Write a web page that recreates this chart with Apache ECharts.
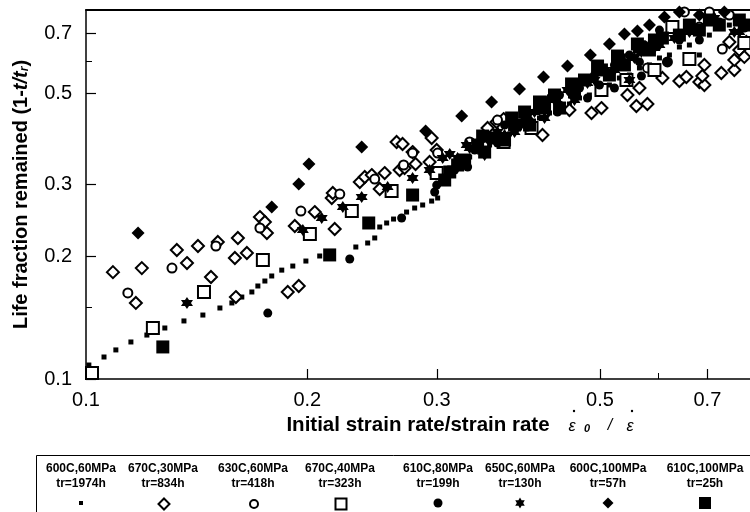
<!DOCTYPE html>
<html>
<head>
<meta charset="utf-8">
<script src="https://cdn.jsdelivr.net/npm/echarts@6/dist/echarts.min.js"></script>
<style>
  html, body { margin: 0; padding: 0; background: #fff; }
  #chart { width: 750px; height: 512px; }
</style>
</head>
<body>
<div id="chart"></div>
<script>
// Axis tick values (log-log plot)
const xTicks = [0.1, 0.2, 0.3, 0.5, 0.7];
const yTicks = [0.1, 0.2, 0.3, 0.5, 0.7];
const xMinorTicks = [0.6];
const yMinorTicks = [0.15, 0.6];

// Test conditions and rupture times
const conditions = ['600C,60MPa', '670C,30MPa', '630C,60MPa', '670C,40MPa',
                    '610C,80MPa', '650C,60MPa', '600C,100MPa', '610C,100MPa'];
const ruptureTimes = ['tr=1974h', 'tr=834h', 'tr=418h', 'tr=323h',
                      'tr=199h', 'tr=130h', 'tr=57h', 'tr=25h'];

// [initial strain rate / strain rate, life fraction remained]
const d600c60 = [
  [0.1009,0.1082],[0.1058,0.1132],[0.1098,0.1178],[0.1151,0.1232],[0.1210,0.1281],
  [0.1280,0.1333],[0.1359,0.1387],[0.1442,0.1434],[0.1521,0.1492],[0.1579,0.1535],
  [0.1629,0.1587],[0.1681,0.1633],[0.1713,0.1689],[0.1751,0.1737],[0.1789,0.1787],
  [0.1846,0.1847],[0.1911,0.1890],[0.1991,0.1944],[0.2079,0.2000],[0.2328,0.2104],
  [0.2416,0.2152],[0.2470,0.2214],[0.2509,0.2355],[0.2564,0.2409],[0.2620,0.2463],
  [0.2729,0.2562],[0.2799,0.2621],[0.2870,0.2666],[0.2952,0.2726],[0.3008,0.2773],
  [0.3124,0.3284],[0.3325,0.3494],[0.3539,0.3738],[0.3767,0.3978],[0.4011,0.4232],
  [0.4270,0.4477],[0.4545,0.4710],[0.4838,0.4955],[0.5151,0.5242],[0.5484,0.5546],
  [0.5839,0.5870],[0.6216,0.6209],[0.6617,0.6568],[0.7044,0.6946],[0.7499,0.7350],
  [0.6827,0.6209],[0.3222,0.3379],[0.3431,0.3593],[0.3652,0.3845],[0.3887,0.4115],
  [0.4138,0.4353],[0.4406,0.4604],[0.4690,0.4872],[0.4993,0.5154],[0.5314,0.5453],
  [0.5659,0.5771],[0.6025,0.6105],[0.6413,0.6494],[0.6827,0.6832],[0.7267,0.7226],
  [0.7737,0.7647]
];
const d670c30 = [
  [0.1088,0.1826],[0.1191,0.1868],[0.1169,0.1535],[0.1329,0.2069],[0.1372,0.1922],
  [0.1420,0.2116],[0.1479,0.1777],[0.1511,0.2164],[0.1594,0.1978],[0.1609,0.2214],
  [0.1655,0.2034],[0.1599,0.1587],[0.1724,0.2491],[0.1751,0.2423],[0.1762,0.2277],
  [0.1923,0.2368],[0.2047,0.2562],[0.2179,0.2329],[0.1881,0.1633],[0.1947,0.1689],
  [0.2159,0.2773],[0.2166,0.2852],[0.2357,0.3034],[0.2394,0.3121],[0.2447,0.3156],
  [0.2548,0.3192],[0.2509,0.2917],[0.2670,0.3247],[0.2712,0.3284],[0.2645,0.3802],
  [0.2695,0.3760],[0.2781,0.3593],[0.2807,0.3359],[0.2952,0.3889],[0.2999,0.3634],
  [0.2933,0.3397],[0.3517,0.4115],[0.3617,0.4256],[0.3698,0.4327],[0.4177,0.3955],
  [0.4545,0.4553],[0.4870,0.4477],[0.5024,0.4604],[0.5450,0.4955],[0.5605,0.4657],
  [0.5802,0.4710],[0.5659,0.5154],[0.6081,0.5453],[0.6413,0.5361],[0.6555,0.5484],
  [0.6827,0.5331],[0.6935,0.5242],[0.6891,0.5515],[0.6935,0.5870],[0.7313,0.5610],
  [0.7617,0.5706],[0.7617,0.6037],[0.7499,0.6680],[0.7737,0.6386],[0.7859,0.6140],
  [0.7908,0.6680]
];
const d630c60 = [
  [0.1140,0.1624],[0.1309,0.1868],[0.1502,0.2116],[0.1724,0.2342],[0.1960,0.2577],
  [0.2214,0.2836],[0.2470,0.3086],[0.2704,0.3340],[0.2781,0.3573],[0.3008,0.3573],
  [0.3325,0.3802],[0.3628,0.4302],[0.5802,0.5771],[0.6177,0.5970],[0.7336,0.6422],
  [0.6514,0.7911],[0.7044,0.7911],[0.7499,0.7778],[0.6827,0.7267]
];
const d670c40 = [
  [0.1019,0.1034],[0.1233,0.1333],[0.1447,0.1633],[0.1740,0.1955],[0.2016,0.2264],
  [0.2299,0.2577],[0.2604,0.2884],[0.2999,0.3192],[0.3698,0.3802],[0.4036,0.4115],
  [0.5024,0.5096],[0.5433,0.5392],[0.5931,0.5706],[0.6617,0.6071],[0.7859,0.6642],
  [0.6274,0.7267]
];
const d610c80 = [
  [0.1767,0.1450],[0.2284,0.1966],[0.2687,0.2477],[0.2980,0.2868],[0.2999,0.2983],
  [0.3056,0.3069],[0.3223,0.3435],[0.3431,0.3675],[0.3887,0.4184],[0.4406,0.4684],
  [0.4993,0.5242],[0.5659,0.5970],[0.6413,0.6756],[0.7267,0.7475],[0.7859,0.7226],
  [0.3172,0.3247],[0.3378,0.3634],[0.3539,0.3845],[0.3709,0.4184],[0.3949,0.4302],
  [0.4138,0.4553],[0.4406,0.4955],[0.4690,0.5154],[0.4916,0.5546],[0.5233,0.5870],
  [0.5484,0.6209],[0.5748,0.6568],[0.6025,0.7145],[0.6827,0.6756],
  [0.3304,0.3303],[0.3628,0.3781],[0.3986,0.4138],[0.4378,0.4502],[0.4809,0.4872],
  [0.5233,0.5154],[0.5694,0.5515],[0.6177,0.5970]
];
const d650c60 = [
  [0.1372,0.1535],[0.1972,0.2316],[0.2092,0.2477],[0.2235,0.2636],[0.2371,0.2788],
  [0.2572,0.2950],[0.2781,0.3103],[0.2933,0.3247],[0.3056,0.3474],[0.3124,0.3552],
  [0.3294,0.3738],[0.3485,0.3911],[0.3628,0.4023],[0.3827,0.4256],[0.4074,0.4502],
  [0.4337,0.4818],[0.4617,0.5039],[0.4916,0.5392],[0.5233,0.5706],[0.5570,0.6105],
  [0.5931,0.6458],[0.6313,0.6832],[0.6721,0.7226],[0.7155,0.7647],[0.7617,0.7065],
  [0.3202,0.3474],[0.3325,0.3675],[0.3709,0.3955],[0.3986,0.4401],[0.4244,0.4818],
  [0.4517,0.5096],[0.4809,0.5303],[0.5072,0.5706],[0.5314,0.5970],[0.5694,0.6314],
  [0.6025,0.6568],[0.6617,0.7067],[0.7267,0.7350],[0.7737,0.7067],
  [0.3485,0.3532],[0.3827,0.4023],[0.4204,0.4353],[0.4617,0.4818],[0.5484,0.5392]
];
const d600c100 = [
  [0.1177,0.2277],[0.1789,0.2636],[0.1947,0.3000],[0.2010,0.3359],[0.2371,0.3696],
  [0.2897,0.4046],[0.3243,0.4401],[0.3561,0.4764],[0.3887,0.5125],[0.4190,0.5484],
  [0.4517,0.5836],[0.4853,0.6209],[0.5151,0.6605],[0.5399,0.6986],[0.5623,0.7105],
  [0.5839,0.7350],[0.6119,0.7690],[0.6413,0.7911],[0.6827,0.7778],[0.7382,0.7911]
];
const d610c100 = [
  [0.1272,0.1198],[0.2145,0.2012],[0.2424,0.2409],[0.2781,0.2820],[0.3124,0.3211],
  [0.3202,0.3340],[0.3485,0.3593],[0.3709,0.3845],[0.4011,0.4184],[0.4406,0.4604],
  [0.5024,0.5706],[0.5314,0.6037],[0.5659,0.6494],[0.6081,0.6832],[0.6413,0.6946],
  [0.6827,0.7145],[0.7267,0.7350],[0.7737,0.7561],
  [0.3075,0.3069],[0.3273,0.3435],[0.3409,0.3738],[0.3595,0.3889],[0.3827,0.4184],
  [0.3949,0.4502],[0.4204,0.4604],[0.4337,0.4955],[0.4617,0.5039],[0.4764,0.5392],
  [0.5151,0.5546],[0.5399,0.5870],[0.5839,0.6386],[0.5931,0.6756],[0.6617,0.7350],
  [0.7044,0.7561],[0.7859,0.7350],
  [0.3463,0.3932],[0.3792,0.4353],[0.4138,0.4764],[0.4575,0.5273],[0.4963,0.5834],
  [0.5283,0.6172],[0.5623,0.6605]
];

const seriesData = [d600c60, d670c30, d630c60, d670c40, d610c80, d650c60, d600c100, d610c100];

// Marker styles, one per test condition
const STAR = 'path://M0,-10L8.66,5L-8.66,5Z M0,10L-8.66,-5L8.66,-5Z';
const markerStyles = [
  { symbol: 'rect',         size: 5,  legendSize: 4 },
  { symbol: 'emptyDiamond', size: 12, legendSize: 11 },
  { symbol: 'emptyCircle',  size: 9,  legendSize: 8 },
  { symbol: 'emptyRect',    size: 12, legendSize: 11 },
  { symbol: 'circle',       size: 9,  legendSize: 9 },
  { symbol: STAR,           size: 12, legendSize: 11 },
  { symbol: 'diamond',      size: 13, legendSize: 11 },
  { symbol: 'rect',         size: 13, legendSize: 12 }
];
const legendCenters = [81, 163, 253, 340, 438, 520, 608, 705];

const FONT = 'Liberation Sans, Arial, Helvetica, sans-serif';
const fmt = v => (Math.round(v * 100) / 100).toFixed(1);

const chart = echarts.init(document.getElementById('chart'), null, { renderer: 'canvas' });

const baseAxis = {
  type: 'log', logBase: 10, min: 0.1, max: 0.8,
  splitLine: { show: false }, minorTick: { show: false }, minorSplitLine: { show: false }
};

const option = {
  animation: false,
  backgroundColor: '#fff',
  grid: { left: 86, top: 10, right: -1, bottom: 133, containLabel: false },
  xAxis: [
    Object.assign({}, baseAxis, {
      position: 'bottom',
      axisLine: { show: true, lineStyle: { color: '#000', width: 1.5 } },
      axisTick: { show: true, inside: true, length: 10, customValues: xTicks, lineStyle: { color: '#000', width: 1.2 } },
      axisLabel: { show: true, customValues: xTicks, formatter: fmt, margin: 11,
                   color: '#000', fontFamily: FONT, fontSize: 20 },
      name: 'Initial strain rate/strain rate',
      nameLocation: 'middle', nameGap: 30,
      nameTextStyle: { color: '#000', fontFamily: FONT, fontSize: 20.5, fontWeight: 'bold' }
    }),
    Object.assign({}, baseAxis, {
      position: 'bottom',
      axisLine: { show: false },
      axisTick: { show: true, inside: true, length: 6, customValues: xMinorTicks, lineStyle: { color: '#000', width: 1 } },
      axisLabel: { show: false }
    }),
    Object.assign({}, baseAxis, {
      position: 'top',
      axisLine: { show: true, lineStyle: { color: '#000', width: 2 } },
      axisTick: { show: false },
      axisLabel: { show: false }
    })
  ],
  yAxis: [
    Object.assign({}, baseAxis, {
      position: 'left',
      axisLine: { show: true, lineStyle: { color: '#000', width: 1.5 } },
      axisTick: { show: true, inside: true, length: 10, customValues: yTicks, lineStyle: { color: '#000', width: 1.2 } },
      axisLabel: { show: true, customValues: yTicks, formatter: fmt, margin: 14,
                   color: '#000', fontFamily: FONT, fontSize: 20 },
      name: '{b|Life fraction remained (1-}{i|t/t}{s|r}{b|)}',
      nameLocation: 'middle', nameGap: 55, nameRotate: 90,
      nameTextStyle: {
        color: '#000',
        rich: {
          b: { fontFamily: FONT, fontSize: 20, fontWeight: 'bold', color: '#000' },
          i: { fontFamily: FONT, fontSize: 20, fontWeight: 'bold', fontStyle: 'italic', color: '#000' },
          s: { fontFamily: FONT, fontSize: 12, fontWeight: 'bold', fontStyle: 'italic', color: '#000', verticalAlign: 'bottom', padding: [8, 0, 0, 0] }
        }
      }
    }),
    Object.assign({}, baseAxis, {
      position: 'left',
      axisLine: { show: false },
      axisTick: { show: true, inside: true, length: 6, customValues: yMinorTicks, lineStyle: { color: '#000', width: 1 } },
      axisLabel: { show: false }
    })
  ],
  legend: markerStyles.map((st, i) => ({
    data: [conditions[i]],
    orient: 'horizontal',
    left: legendCenters[i] - st.legendSize / 2,
    top: 503 - st.legendSize / 2,
    padding: 0,
    itemWidth: st.legendSize,
    itemHeight: st.legendSize,
    selectedMode: false,
    formatter: () => '',
    textStyle: { fontSize: 1 }
  })),
  graphic: [
    // legend frame
    { type: 'rect', left: 34, top: 453, z: 0,
      shape: { width: 740, height: 80 },
      style: { fill: 'none', stroke: '#000', lineWidth: 1 } },
    // condition captions above each legend marker
    ...conditions.map((c, i) => ({
      type: 'text', x: legendCenters[i], y: 469,
      style: { text: c, fill: '#000', font: 'bold 12px ' + FONT, align: 'center', verticalAlign: 'middle' }
    })),
    ...ruptureTimes.map((t, i) => ({
      type: 'text', x: legendCenters[i], y: 484,
      style: { text: t, fill: '#000', font: 'bold 12px ' + FONT, align: 'center', verticalAlign: 'middle' }
    })),
    // strain-rate ratio symbol next to the x-axis title
    { type: 'text', x: 572, y: 427, style: { text: 'ε', fill: '#000', font: 'italic 16px ' + FONT, align: 'center', verticalAlign: 'middle' } },
    { type: 'text', x: 587, y: 429, style: { text: '0', fill: '#000', font: 'italic bold 11px ' + FONT, align: 'center', verticalAlign: 'middle' } },
    { type: 'text', x: 610, y: 426, style: { text: '/', fill: '#000', font: 'italic 16px ' + FONT, align: 'center', verticalAlign: 'middle' } },
    { type: 'text', x: 630, y: 427, style: { text: 'ε', fill: '#000', font: 'italic 16px ' + FONT, align: 'center', verticalAlign: 'middle' } },
    { type: 'circle', shape: { cx: 574, cy: 411, r: 1.2 }, style: { fill: '#000' } },
    { type: 'circle', shape: { cx: 632, cy: 411, r: 1.2 }, style: { fill: '#000' } }
  ],
  series: seriesData.map((data, i) => ({
    name: conditions[i],
    type: 'scatter',
    xAxisIndex: 0,
    yAxisIndex: 0,
    data: data,
    symbol: markerStyles[i].symbol,
    symbolSize: markerStyles[i].size,
    itemStyle: { color: '#000', borderColor: '#000', borderWidth: markerStyles[i].symbol.indexOf('empty') === 0 ? 1 : 0, opacity: 1 },
    emphasis: { disabled: true },
    clip: true
  }))
};

chart.setOption(option);
</script>
</body>
</html>
